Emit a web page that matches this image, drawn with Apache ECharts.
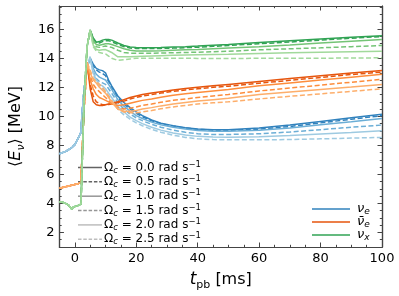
<!DOCTYPE html>
<html><head><meta charset="utf-8">
<script src="https://cdn.jsdelivr.net/npm/echarts@6/dist/echarts.min.js"></script>
<style>html,body{margin:0;padding:0;background:#fff}#c{width:399px;height:296px}</style>
</head><body><div id="c"></div>
<script>
// time grids (ms)
const tPre = [-5,-4,-3,-2,-1.5,-1,-0.5,0,1,2];
const tPost = [2.3,3,4,5,6,7,8,9,10,11,12,14,16,18,20,22,25,28,32,36,40,45,50,60,70,80,90,100];
const omegaLabels = ['0.0','0.5','1.0','1.5','2.0','2.5'];
const xMajorTicks = [0,20,40,60,80,100];
const yMajorTicks = [2,4,6,8,10,12,14,16];

// pre-bounce (identical for all rotation rates)
const nueeePre = [7.42,7.5,7.58,7.7,7.76,7.84,7.93,8.05,8.45,8.9];
const anuePre  = [5.05,5.1,5.15,5.2,5.22,5.25,5.28,5.3,5.35,5.45];
const nuxPre   = [4.12,4.08,4.0,3.88,3.75,3.6,3.75,3.88,3.85,3.95];

// post-bounce nu_e
const nue00 = [10.0,11.8,13.4,14.0,13.6,13.3,13.2,13.15,13.0,12.5,12.1,11.4,10.95,10.6,10.3,10.05,9.75,9.53,9.36,9.22,9.13,9.08,9.08,9.2,9.4,9.65,9.9,10.15];
const nue05 = [10.0,11.8,13.4,14.0,13.5,13.2,13.05,12.95,12.8,12.4,12.0,11.3,10.85,10.5,10.2,9.98,9.7,9.5,9.33,9.2,9.1,9.05,9.03,9.12,9.3,9.55,9.8,10.05];
const nue10 = [10.0,11.8,13.4,14.0,13.3,12.9,12.7,12.6,12.5,12.2,11.85,11.15,10.7,10.35,10.05,9.85,9.6,9.42,9.25,9.12,9.03,8.98,8.98,9.05,9.2,9.42,9.63,9.85];
const nue15 = [10.0,11.8,13.4,14.0,13.1,12.6,12.4,12.3,12.2,11.9,11.6,10.95,10.5,10.15,9.9,9.7,9.45,9.25,9.05,8.9,8.8,8.75,8.75,8.8,8.92,9.08,9.25,9.4];
const nue20 = [10.0,11.8,13.4,14.1,13.0,12.5,12.2,12.1,11.9,11.6,11.3,10.7,10.3,9.95,9.7,9.5,9.25,9.05,8.85,8.72,8.62,8.58,8.56,8.6,8.68,8.78,8.88,9.0];
const nue25 = [10.0,11.8,13.4,14.1,12.9,12.4,12.1,11.9,11.7,11.4,11.1,10.5,10.1,9.8,9.55,9.35,9.1,8.9,8.7,8.55,8.45,8.4,8.38,8.38,8.4,8.45,8.5,8.55];

// post-bounce anti nu_e
const anue00 = [7.0,10.5,13.7,11.9,11.0,10.8,10.75,10.75,10.8,10.85,10.9,11.0,11.15,11.3,11.4,11.5,11.6,11.7,11.82,11.92,12.0,12.1,12.2,12.4,12.6,12.8,12.98,13.15];
const anue05 = [7.0,10.5,13.7,12.2,11.4,11.0,10.9,10.8,10.8,10.82,10.85,10.95,11.05,11.2,11.3,11.4,11.5,11.6,11.72,11.82,11.9,12.0,12.08,12.28,12.48,12.68,12.88,13.05];
const anue10 = [7.0,10.5,13.7,12.5,11.9,11.5,11.3,11.2,11.1,11.0,10.85,10.75,10.8,10.9,11.0,11.1,11.2,11.32,11.45,11.55,11.65,11.75,11.85,12.1,12.3,12.5,12.7,12.9];
const anue15 = [7.0,10.5,13.7,12.8,12.2,11.9,11.7,11.5,11.3,11.1,10.9,10.6,10.5,10.55,10.65,10.75,10.85,10.97,11.1,11.2,11.3,11.4,11.5,11.75,11.95,12.15,12.35,12.55];
const anue20 = [7.0,10.5,13.7,13.0,12.5,12.3,12.0,11.8,11.6,11.3,11.0,10.5,10.35,10.35,10.4,10.5,10.6,10.72,10.85,10.95,11.05,11.15,11.25,11.5,11.68,11.85,12.02,12.2];
const anue25 = [7.0,10.5,13.7,13.2,12.6,12.4,12.2,12.0,11.7,11.4,11.1,10.5,10.3,10.25,10.25,10.3,10.4,10.52,10.65,10.75,10.85,10.93,11.0,11.2,11.38,11.55,11.72,11.9];

// post-bounce nu_x
const nux00 = [6.0,11.0,14.8,15.95,15.4,15.1,15.15,15.25,15.3,15.3,15.25,15.05,14.88,14.78,14.75,14.73,14.73,14.75,14.78,14.8,14.84,14.9,14.95,15.08,15.2,15.32,15.44,15.55];
const nux05 = [6.0,11.0,14.8,15.95,15.35,15.05,15.05,15.15,15.2,15.2,15.15,14.95,14.8,14.7,14.68,14.67,14.67,14.68,14.7,14.73,14.76,14.82,14.88,15.0,15.12,15.25,15.38,15.5];
const nux10 = [6.0,11.0,14.8,15.95,15.2,14.95,14.9,14.95,15.0,15.0,14.95,14.8,14.65,14.55,14.5,14.5,14.5,14.52,14.55,14.58,14.6,14.65,14.7,14.8,14.92,15.05,15.18,15.3];
const nux15 = [6.0,11.0,14.8,15.95,15.1,14.8,14.75,14.8,14.85,14.8,14.75,14.55,14.4,14.35,14.35,14.35,14.35,14.36,14.38,14.4,14.42,14.45,14.48,14.58,14.65,14.72,14.8,14.88];
const nux20 = [6.0,11.0,14.8,15.95,14.9,14.6,14.55,14.58,14.6,14.5,14.4,14.1,14.1,14.1,14.12,14.14,14.16,14.18,14.2,14.22,14.24,14.26,14.28,14.33,14.38,14.42,14.45,14.48];
const nux25 = [6.0,11.0,14.8,15.95,14.8,14.5,14.4,14.35,14.3,14.15,14.0,13.85,13.9,13.95,14.0,14.0,14.0,14.0,14.0,14.0,13.99,13.98,13.98,14.0,14.0,14.0,14.02,14.03];

const species = [
  {pre: nueeePre, post: [nue00,nue05,nue10,nue15,nue20,nue25], colors: ['#3182bd','#3182bd','#6baed6','#6baed6','#9ecae1','#9ecae1']},
  {pre: anuePre, post: [anue00,anue05,anue10,anue15,anue20,anue25], colors: ['#e6550d','#e6550d','#fd8d3c','#fd8d3c','#fdae6b','#fdae6b']},
  {pre: nuxPre, post: [nux00,nux05,nux10,nux15,nux20,nux25], colors: ['#31a354','#31a354','#74c476','#74c476','#a1d99b','#a1d99b']}
];
const grays = ['#636363','#636363','#969696','#969696','#bdbdbd','#bdbdbd'];
const DASH = [5,2.5];
const tAll = tPre.concat(tPost);

const series = [];
species.forEach(sp => {
  sp.post.forEach((arr, k) => {
    const vals = sp.pre.concat(arr);
    series.push({
      type: 'line', xAxisIndex: 0, yAxisIndex: 0, showSymbol: false, silent: true, animation: false,
      data: tAll.map((t, i) => [t, vals[i]]),
      lineStyle: {color: sp.colors[k], width: 1.5, type: (k % 2 === 1) ? DASH : 'solid'},
      z: 2
    });
  });
});

const F = 'DejaVu Sans';
const spineColor = '#444';
function xAx(pos, major, showLine, showLabel, name) {
  const o = {
    type: 'value', position: pos, min: -5, max: 100, gridIndex: 0,
    axisLine: {show: showLine, onZero: false, lineStyle: {color: spineColor, width: 1.2}},
    splitLine: {show: false},
    axisTick: {show: true, inside: true, length: major ? 4.5 : 2.2, lineStyle: {color: spineColor, width: 1}},
    axisLabel: {show: showLabel}
  };
  if (major) {
    o.axisTick.customValues = xMajorTicks;
    o.axisLabel.customValues = xMajorTicks;
    o.axisLabel.fontFamily = F; o.axisLabel.fontSize = 13; o.axisLabel.color = '#000'; o.axisLabel.margin = 5;
  } else { o.interval = 5; }
  if (name) {
    o.name = '{i|t}{s|pb}{n| [ms]}';
    o.nameLocation = 'middle'; o.nameGap = 22;
    o.nameTextStyle = {rich: {
      i: {fontFamily: F, fontStyle: 'italic', fontSize: 17, color: '#000', lineHeight: 22},
      s: {fontFamily: F, fontSize: 11, color: '#000', lineHeight: 11, verticalAlign: 'bottom'},
      n: {fontFamily: F, fontSize: 16, color: '#000', lineHeight: 22}
    }};
  }
  return o;
}
function yAx(pos, major, showLine, showLabel, name) {
  const o = {
    type: 'value', position: pos, min: 1, max: 17.6, gridIndex: 0,
    axisLine: {show: showLine, onZero: false, lineStyle: {color: spineColor, width: 1.2}},
    splitLine: {show: false},
    axisTick: {show: true, inside: true, length: major ? 4.5 : 2.2, lineStyle: {color: spineColor, width: 1}},
    axisLabel: {show: showLabel}
  };
  if (major) {
    o.axisTick.customValues = yMajorTicks;
    o.axisLabel.customValues = yMajorTicks;
    o.axisLabel.fontFamily = F; o.axisLabel.fontSize = 13; o.axisLabel.color = '#000'; o.axisLabel.margin = 5;
  } else { o.interval = 0.5; }
  if (name) {
    o.name = '{n|⟨}{i|E}{s|ν}{n|⟩ [MeV]}';
    o.nameLocation = 'middle'; o.nameGap = 25; o.nameRotate = 90;
    o.nameTextStyle = {rich: {
      i: {fontFamily: F, fontStyle: 'italic', fontSize: 16, color: '#000', lineHeight: 22},
      s: {fontFamily: F, fontStyle: 'italic', fontSize: 11, color: '#000', lineHeight: 11, verticalAlign: 'bottom'},
      n: {fontFamily: F, fontSize: 16, color: '#000', lineHeight: 22}
    }};
  }
  return o;
}

const graphics = [];
// rotation legend
const rowY0 = 167.5, rowDY = 14.35;
omegaLabels.forEach((lab, k) => {
  const y = rowY0 + k * rowDY;
  graphics.push({type: 'line', shape: {x1: 78, y1: y, x2: 102, y2: y},
    style: {stroke: grays[k], lineWidth: 1.5, lineDash: (k % 2 === 1) ? [3.5, 1.8] : null}, silent: true});
  graphics.push({type: 'text', x: 104, y: y, style: {
    text: '{g|Ω}{s|c}{g| = ' + lab + ' rad s}{p|−1}',
    verticalAlign: 'middle', align: 'left',
    rich: {
      g: {fontFamily: F, fontSize: 12, fill: '#000', lineHeight: 15},
      s: {fontFamily: F, fontStyle: 'italic', fontSize: 8.5, fill: '#000', lineHeight: 9, verticalAlign: 'bottom'},
      p: {fontFamily: F, fontSize: 8.5, fill: '#000', lineHeight: 9, verticalAlign: 'top'}
    }}, silent: true});
});
// species legend
const spLabels = ['{i|ν}{s|e}', '{i|ν̄}{s|e}', '{i|ν}{s|x}'];
const spColors = ['#3182bd', '#e6550d', '#31a354'];
spLabels.forEach((lab, k) => {
  const y = 209 + k * 13;
  graphics.push({type: 'line', shape: {x1: 312, y1: y, x2: 350, y2: y},
    style: {stroke: spColors[k], lineWidth: 1.5}, silent: true});
  graphics.push({type: 'text', x: 357, y: y, style: {
    text: lab, verticalAlign: 'middle', align: 'left',
    rich: {
      i: {fontFamily: F, fontStyle: 'italic', fontSize: 13, fill: '#000', lineHeight: 15},
      s: {fontFamily: F, fontStyle: 'italic', fontSize: 9, fill: '#000', lineHeight: 9, verticalAlign: 'bottom'}
    }}, silent: true});
});

const chart = echarts.init(document.getElementById('c'), null, {renderer: 'canvas'});
chart.setOption({
  animation: false,
  backgroundColor: '#fff',
  grid: {left: 47, right: 17, top: 6, bottom: 44, containLabel: false},
  xAxis: [
    xAx('bottom', false, true, false, false),
    xAx('bottom', true, true, true, true),
    xAx('top', false, true, false, false),
    xAx('top', true, true, false, false)
  ],
  yAxis: [
    yAx('left', false, true, false, false),
    yAx('left', true, true, true, true),
    yAx('right', false, true, false, false),
    yAx('right', true, true, false, false)
  ],
  series: series,
  graphic: graphics
});
</script></body></html>
